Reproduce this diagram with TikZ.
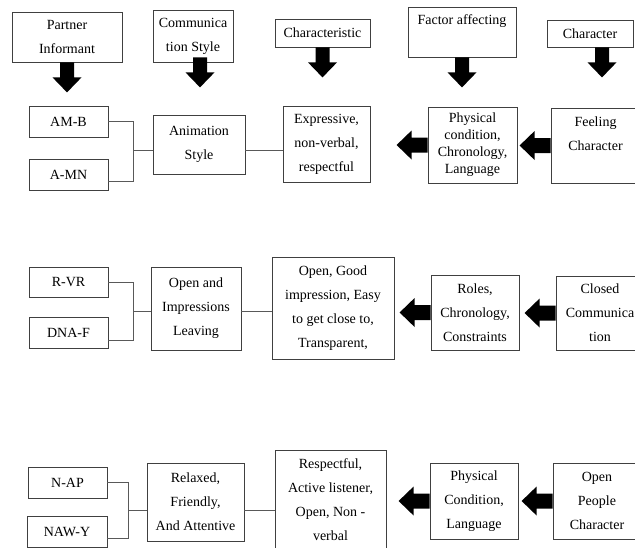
\documentclass[tikz,border=0pt]{standalone}
\usepackage{fontspec}
\setmainfont{Liberation Serif}
\usetikzlibrary{calc}
\newcommand\downblock[1]{\fill[black] (#1) ++(-7,0) -- ++(0,15) -- ++(-7.5,0) -- ++(14.5,15) -- ++(14.5,-15) -- ++(-7.5,0) -- ++(0,-15) -- cycle;}
\newcommand\leftblock[1]{\fill[black] (#1) ++(0,-7.5) -- ++(-16,0) -- ++(0,-7) -- ++(-15,14.5) -- ++(15,14.5) -- ++(0,-7) -- ++(16,0) -- cycle;}
\begin{document}
\begin{tikzpicture}[x=1pt, y=-1pt,
  box/.style={draw=black!75, line width=0.8pt, align=center, inner sep=0pt, font=\fontsize{14}{24}\selectfont},
  tight/.style={font=\fontsize{14}{17}\selectfont},
  conn/.style={draw=black!65, line width=0.8pt}]
\useasboundingbox (0,0) rectangle (635,547);
\clip (0,0) rectangle (635,547);
\fill[white] (0,0) rectangle (635,547);
% headers
\node[box, minimum width=110pt, minimum height=50pt] (partner) at (67,37) {Partner\\Informant};
\node[box, minimum width=80pt, minimum height=52pt] (comm) at (193,36) {Communica\\tion Style};
\node[box, minimum width=95pt, minimum height=28pt] (charac) at (322.5,33) {Characteristic};
\node[box, minimum width=108pt, minimum height=50pt] (factor) at (462,32) {Factor affecting\\\mbox{}};
\node[box, minimum width=86pt, minimum height=27pt] (charhead) at (590,33.5) {Character};
\downblock{partner.south}
\downblock{$(comm.south)+(7,-5)$}
\downblock{charac.south}
\downblock{factor.south}
\downblock{$(charhead.south)+(12,0)$}
% row 1
\node[box, minimum width=79pt, minimum height=31pt] (amb) at (68.5,121.5) {AM-B};
\node[box, minimum width=79pt, minimum height=31pt] (amn) at (68.5,174.5) {A-MN};
\node[box, minimum width=92pt, minimum height=59pt] (anim) at (199,144.5) {Animation\\Style};
\node[box, minimum width=87pt, minimum height=76pt] (expr) at (326.5,144) {Expressive,\\non-verbal,\\respectful};
\node[box, tight, minimum width=89pt, minimum height=76pt] (phys1) at (472.5,145) {Physical\\condition,\\Chronology,\\Language};
\node[box, minimum width=89pt, minimum height=75pt] (feel) at (595.5,145.5) {Feeling\\Character\\\mbox{}};
\coordinate (j1) at (133,150);
\draw[conn] (amb.east) -| (j1);
\draw[conn] (j1) |- ($(amn.east)+(0,7)$);
\draw[conn] (j1) -- (j1 -| anim.west);
\draw[conn] (j1 -| anim.east) -- (j1 -| expr.west);
\leftblock{phys1.west}
\leftblock{feel.west}
% row 2
\node[box, minimum width=79pt, minimum height=30pt] (rvr) at (68.5,282) {R-VR};
\node[box, minimum width=79pt, minimum height=31pt] (dnaf) at (68.5,332.5) {DNA-F};
\node[box, minimum width=90pt, minimum height=83pt] (openimp) at (196,308.5) {Open and\\Impressions\\Leaving};
\node[box, minimum width=122pt, minimum height=102pt] (opengood) at (333,308) {Open, Good\\impression, Easy\\to get close to,\\Transparent,};
\node[box, minimum width=88pt, minimum height=75pt] (roles) at (475,312.5) {Roles,\\Chronology,\\Constraints};
\node[box, minimum width=88pt, minimum height=74pt] (closed) at (600,313) {Closed\\Communica\\tion};
\coordinate (j2) at (133,311.7);
\draw[conn] (rvr.east) -| (j2);
\draw[conn] (j2) |- ($(dnaf.east)+(0,7.5)$);
\draw[conn] (j2) -- (j2 -| openimp.west);
\draw[conn] (j2 -| openimp.east) -- (j2 -| opengood.west);
\leftblock{roles.west}
\leftblock{closed.west}
% row 3
\node[box, minimum width=79pt, minimum height=31pt] (nap) at (67.5,482.5) {N-AP};
\node[box, minimum width=80pt, minimum height=31pt] (nawy) at (67,532) {NAW-Y};
\node[box, minimum width=97pt, minimum height=78pt] (relax) at (195.5,502) {Relaxed,\\Friendly,\\And Attentive};
\node[box, minimum width=111pt, minimum height=100pt] (respect) at (330.5,500) {Respectful,\\Active listener,\\Open, Non -\\verbal};
\node[box, minimum width=88pt, minimum height=76pt] (phys3) at (474,501) {Physical\\Condition,\\Language};
\node[box, minimum width=88pt, minimum height=76pt] (openpeople) at (597,501) {Open\\People\\Character};
\coordinate (j3) at (128,510);
\draw[conn] (nap.east) -| (j3);
\draw[conn] (j3) |- ($(nawy.east)+(0,6)$);
\draw[conn] (j3) -- (j3 -| relax.west);
\draw[conn] (j3 -| relax.east) -- (j3 -| respect.west);
\leftblock{phys3.west}
\leftblock{openpeople.west}
\end{tikzpicture}
\end{document}
